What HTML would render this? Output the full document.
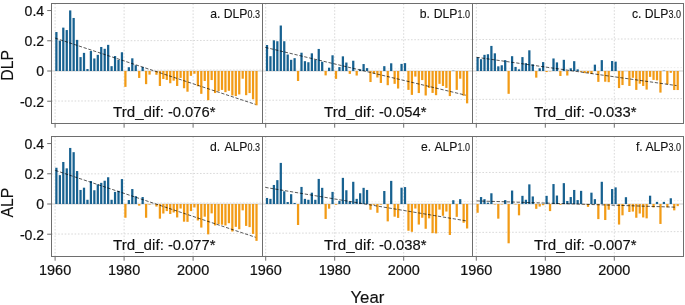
<!DOCTYPE html>
<html><head><meta charset="utf-8"><style>
html,body{margin:0;padding:0;background:#fff;overflow:hidden;}
body{width:685px;height:305px;font-family:"Liberation Sans",sans-serif;}
svg{display:block;will-change:transform;}
</style></head><body>
<svg width="685" height="305" viewBox="0 0 685 305">
<rect width="685" height="305" fill="#fff"/>
<g stroke="#d9d9d9" stroke-width="1" stroke-dasharray="1.6 1.7"><line x1="55.1" y1="3.5" x2="55.1" y2="123.5"/><line x1="124.1" y1="3.5" x2="124.1" y2="123.5"/><line x1="193.1" y1="3.5" x2="193.1" y2="123.5"/><line x1="51.5" y1="41" x2="262.5" y2="40.26"/><line x1="51.5" y1="70.2" x2="262.5" y2="69.33" stroke="#ececec"/><line x1="51.5" y1="101.1" x2="262.5" y2="100.26"/></g>
<line x1="51.5" y1="71" x2="262.5" y2="71" stroke="#cfcfcf" stroke-width="1"/>
<g fill="#176190"><rect x="55.27" y="32.02" width="2.25" height="38.98"/><rect x="58.73" y="40.63" width="2.25" height="30.37"/><rect x="62.17" y="27.63" width="2.25" height="43.37"/><rect x="65.62" y="30.05" width="2.25" height="40.95"/><rect x="69.08" y="10.41" width="2.25" height="60.59"/><rect x="72.53" y="17.96" width="2.25" height="53.04"/><rect x="75.97" y="39.87" width="2.25" height="31.13"/><rect x="79.42" y="57.1" width="2.25" height="13.9"/><rect x="82.88" y="52.87" width="2.25" height="18.13"/><rect x="86.33" y="69.04" width="2.25" height="1.96"/><rect x="89.78" y="51.05" width="2.25" height="19.95"/><rect x="93.22" y="58.46" width="2.25" height="12.54"/><rect x="96.68" y="54.83" width="2.25" height="16.17"/><rect x="100.12" y="46.98" width="2.25" height="24.02"/><rect x="103.58" y="48.79" width="2.25" height="22.21"/><rect x="107.03" y="44.86" width="2.25" height="26.14"/><rect x="110.47" y="66.16" width="2.25" height="4.84"/><rect x="113.93" y="56.04" width="2.25" height="14.96"/><rect x="117.38" y="59.97" width="2.25" height="11.03"/><rect x="120.82" y="52.26" width="2.25" height="18.74"/><rect x="127.72" y="67.22" width="2.25" height="3.78"/><rect x="131.18" y="58.31" width="2.25" height="12.69"/><rect x="134.62" y="65.26" width="2.25" height="5.74"/><rect x="141.53" y="66.92" width="2.25" height="4.08"/></g>
<g fill="#f29b16"><rect x="124.28" y="71" width="2.25" height="15.87"/><rect x="138.08" y="71" width="2.25" height="6.95"/><rect x="144.97" y="71" width="2.25" height="13.15"/><rect x="148.43" y="71" width="2.25" height="3.63"/><rect x="155.33" y="71" width="2.25" height="3.78"/><rect x="158.78" y="71" width="2.25" height="14.96"/><rect x="162.22" y="71" width="2.25" height="8.01"/><rect x="165.68" y="71" width="2.25" height="8.91"/><rect x="169.12" y="71" width="2.25" height="12.24"/><rect x="172.58" y="71" width="2.25" height="9.67"/><rect x="176.03" y="71" width="2.25" height="14.96"/><rect x="179.47" y="71" width="2.25" height="6.95"/><rect x="182.93" y="71" width="2.25" height="17.23"/><rect x="186.38" y="71" width="2.25" height="20.7"/><rect x="189.83" y="71" width="2.25" height="4.84"/><rect x="193.28" y="71" width="2.25" height="2.72"/><rect x="196.73" y="71" width="2.25" height="15.26"/><rect x="200.18" y="71" width="2.25" height="22.82"/><rect x="203.62" y="71" width="2.25" height="9.97"/><rect x="207.08" y="71" width="2.25" height="29.16"/><rect x="210.53" y="71" width="2.25" height="9.07"/><rect x="213.98" y="71" width="2.25" height="22.06"/><rect x="217.43" y="71" width="2.25" height="20.25"/><rect x="220.88" y="71" width="2.25" height="18.89"/><rect x="224.33" y="71" width="2.25" height="21.15"/><rect x="227.78" y="71" width="2.25" height="19.79"/><rect x="231.23" y="71" width="2.25" height="24.48"/><rect x="234.68" y="71" width="2.25" height="25.08"/><rect x="238.13" y="71" width="2.25" height="23.42"/><rect x="241.58" y="71" width="2.25" height="7.71"/><rect x="245.03" y="71" width="2.25" height="24.18"/><rect x="248.48" y="71" width="2.25" height="22.06"/><rect x="251.93" y="71" width="2.25" height="28.26"/><rect x="255.38" y="71" width="2.25" height="34.3"/></g>
<line x1="55.1" y1="38.1" x2="255.5" y2="104.4" stroke="#000" stroke-width="0.65" stroke-dasharray="3.3 1.7"/>
<g stroke="#d9d9d9" stroke-width="1" stroke-dasharray="1.6 1.7"><line x1="265.7" y1="3.5" x2="265.7" y2="123.5"/><line x1="334.7" y1="3.5" x2="334.7" y2="123.5"/><line x1="403.7" y1="3.5" x2="403.7" y2="123.5"/><line x1="262.5" y1="40.26" x2="472.5" y2="39.53"/><line x1="262.5" y1="69.33" x2="472.5" y2="68.47" stroke="#ececec"/><line x1="262.5" y1="100.26" x2="472.5" y2="99.43"/></g>
<line x1="262.5" y1="71" x2="472.5" y2="71" stroke="#cfcfcf" stroke-width="1"/>
<g fill="#176190"><rect x="265.88" y="45.01" width="2.25" height="25.99"/><rect x="269.32" y="56.19" width="2.25" height="14.81"/><rect x="272.77" y="40.33" width="2.25" height="30.67"/><rect x="276.23" y="41.23" width="2.25" height="29.77"/><rect x="279.68" y="25.52" width="2.25" height="45.48"/><rect x="283.12" y="41.23" width="2.25" height="29.77"/><rect x="286.57" y="54.53" width="2.25" height="16.47"/><rect x="290.02" y="59.82" width="2.25" height="11.18"/><rect x="293.48" y="58.16" width="2.25" height="12.84"/><rect x="300.38" y="52.72" width="2.25" height="18.28"/><rect x="303.82" y="61.18" width="2.25" height="9.82"/><rect x="307.27" y="62.24" width="2.25" height="8.76"/><rect x="310.73" y="53.32" width="2.25" height="17.68"/><rect x="314.18" y="59.67" width="2.25" height="11.33"/><rect x="317.62" y="48.94" width="2.25" height="22.06"/><rect x="321.07" y="61.78" width="2.25" height="9.22"/><rect x="327.98" y="67.68" width="2.25" height="3.32"/><rect x="331.43" y="55.29" width="2.25" height="15.71"/><rect x="338.32" y="67.07" width="2.25" height="3.93"/><rect x="341.77" y="56.34" width="2.25" height="14.66"/><rect x="345.23" y="62.54" width="2.25" height="8.46"/><rect x="352.12" y="60.73" width="2.25" height="10.27"/><rect x="359.02" y="69.34" width="2.25" height="1.66"/><rect x="362.48" y="64.05" width="2.25" height="6.95"/><rect x="365.93" y="68.13" width="2.25" height="2.87"/><rect x="383.18" y="66.16" width="2.25" height="4.84"/><rect x="390.07" y="63.29" width="2.25" height="7.71"/><rect x="400.43" y="63.9" width="2.25" height="7.1"/><rect x="403.88" y="63.14" width="2.25" height="7.86"/><rect x="452.18" y="70.7" width="2.25" height="0.3"/></g>
<g fill="#f29b16"><rect x="296.93" y="71" width="2.25" height="9.97"/><rect x="324.52" y="71" width="2.25" height="4.38"/><rect x="334.88" y="71" width="2.25" height="7.86"/><rect x="348.68" y="71" width="2.25" height="2.87"/><rect x="355.57" y="71" width="2.25" height="4.53"/><rect x="369.38" y="71" width="2.25" height="11.03"/><rect x="372.82" y="71" width="2.25" height="2.57"/><rect x="376.27" y="71" width="2.25" height="6.5"/><rect x="379.73" y="71" width="2.25" height="11.94"/><rect x="386.62" y="71" width="2.25" height="14.2"/><rect x="393.52" y="71" width="2.25" height="12.84"/><rect x="396.98" y="71" width="2.25" height="17.53"/><rect x="407.33" y="71" width="2.25" height="18.89"/><rect x="410.77" y="71" width="2.25" height="23.87"/><rect x="414.23" y="71" width="2.25" height="5.59"/><rect x="417.68" y="71" width="2.25" height="22.06"/><rect x="421.12" y="71" width="2.25" height="9.07"/><rect x="424.58" y="71" width="2.25" height="24.48"/><rect x="428.02" y="71" width="2.25" height="16.92"/><rect x="431.48" y="71" width="2.25" height="21.91"/><rect x="434.93" y="71" width="2.25" height="24.18"/><rect x="438.38" y="71" width="2.25" height="12.84"/><rect x="441.83" y="71" width="2.25" height="14.96"/><rect x="445.27" y="71" width="2.25" height="16.92"/><rect x="448.73" y="71" width="2.25" height="25.08"/><rect x="455.62" y="71" width="2.25" height="18.89"/><rect x="459.08" y="71" width="2.25" height="7.71"/><rect x="462.52" y="71" width="2.25" height="24.78"/><rect x="465.98" y="71" width="2.25" height="32.34"/></g>
<line x1="265.3" y1="47.4" x2="465.8" y2="95.2" stroke="#000" stroke-width="0.65" stroke-dasharray="3.3 1.7"/>
<g stroke="#d9d9d9" stroke-width="1" stroke-dasharray="1.6 1.7"><line x1="476.3" y1="3.5" x2="476.3" y2="123.5"/><line x1="545.3" y1="3.5" x2="545.3" y2="123.5"/><line x1="614.3" y1="3.5" x2="614.3" y2="123.5"/><line x1="472.5" y1="39.53" x2="683.5" y2="38.8"/><line x1="472.5" y1="68.47" x2="683.5" y2="67.6" stroke="#ececec"/><line x1="472.5" y1="99.43" x2="683.5" y2="98.6"/></g>
<line x1="472.5" y1="71" x2="683.5" y2="71" stroke="#cfcfcf" stroke-width="1"/>
<g fill="#176190"><rect x="476.47" y="57.25" width="2.25" height="13.75"/><rect x="479.92" y="59.21" width="2.25" height="11.79"/><rect x="483.37" y="54.83" width="2.25" height="16.17"/><rect x="486.82" y="54.23" width="2.25" height="16.77"/><rect x="490.27" y="45.92" width="2.25" height="25.08"/><rect x="493.72" y="53.32" width="2.25" height="17.68"/><rect x="497.17" y="66.32" width="2.25" height="4.68"/><rect x="500.62" y="65.26" width="2.25" height="5.74"/><rect x="504.07" y="60.12" width="2.25" height="10.88"/><rect x="510.97" y="56.19" width="2.25" height="14.81"/><rect x="514.42" y="66.92" width="2.25" height="4.08"/><rect x="517.88" y="69.34" width="2.25" height="1.66"/><rect x="521.32" y="57.1" width="2.25" height="13.9"/><rect x="524.77" y="63.14" width="2.25" height="7.86"/><rect x="528.22" y="50.3" width="2.25" height="20.7"/><rect x="531.67" y="64.35" width="2.25" height="6.65"/><rect x="538.57" y="68.28" width="2.25" height="2.72"/><rect x="542.02" y="62.09" width="2.25" height="8.91"/><rect x="552.38" y="58.46" width="2.25" height="12.54"/><rect x="555.82" y="62.39" width="2.25" height="8.61"/><rect x="562.72" y="59.82" width="2.25" height="11.18"/><rect x="569.62" y="68.28" width="2.25" height="2.72"/><rect x="573.07" y="61.18" width="2.25" height="9.82"/><rect x="576.52" y="69.34" width="2.25" height="1.66"/><rect x="593.77" y="64.65" width="2.25" height="6.35"/><rect x="600.67" y="60.12" width="2.25" height="10.88"/><rect x="611.02" y="61.03" width="2.25" height="9.97"/><rect x="614.47" y="61.63" width="2.25" height="9.37"/><rect x="662.77" y="70.7" width="2.25" height="0.3"/></g>
<g fill="#f29b16"><rect x="507.52" y="71" width="2.25" height="22.82"/><rect x="535.12" y="71" width="2.25" height="6.65"/><rect x="545.47" y="71" width="2.25" height="1.06"/><rect x="548.92" y="71" width="2.25" height="0.3"/><rect x="559.27" y="71" width="2.25" height="4.99"/><rect x="566.17" y="71" width="2.25" height="4.53"/><rect x="579.97" y="71" width="2.25" height="0.76"/><rect x="583.42" y="71" width="2.25" height="2.12"/><rect x="586.88" y="71" width="2.25" height="1.96"/><rect x="590.32" y="71" width="2.25" height="3.02"/><rect x="597.22" y="71" width="2.25" height="10.88"/><rect x="604.12" y="71" width="2.25" height="10.73"/><rect x="607.57" y="71" width="2.25" height="11.18"/><rect x="617.92" y="71" width="2.25" height="17.07"/><rect x="621.38" y="71" width="2.25" height="14.05"/><rect x="628.27" y="71" width="2.25" height="14.96"/><rect x="631.72" y="71" width="2.25" height="6.8"/><rect x="635.17" y="71" width="2.25" height="18.89"/><rect x="638.62" y="71" width="2.25" height="12.69"/><rect x="642.08" y="71" width="2.25" height="14.96"/><rect x="645.52" y="71" width="2.25" height="18.59"/><rect x="648.97" y="71" width="2.25" height="5.89"/><rect x="652.42" y="71" width="2.25" height="8.91"/><rect x="655.88" y="71" width="2.25" height="9.37"/><rect x="659.33" y="71" width="2.25" height="21.61"/><rect x="666.22" y="71" width="2.25" height="13.45"/><rect x="669.67" y="71" width="2.25" height="1.81"/><rect x="673.12" y="71" width="2.25" height="19.04"/><rect x="676.58" y="71" width="2.25" height="19.04"/></g>
<line x1="476.6" y1="57.3" x2="676.6" y2="85.6" stroke="#000" stroke-width="0.65" stroke-dasharray="3.3 1.7"/>
<g stroke="#d9d9d9" stroke-width="1" stroke-dasharray="1.6 1.7"><line x1="55.1" y1="136.5" x2="55.1" y2="256.5"/><line x1="124.1" y1="136.5" x2="124.1" y2="256.5"/><line x1="193.1" y1="136.5" x2="193.1" y2="256.5"/><line x1="51.5" y1="174" x2="262.5" y2="173.26"/><line x1="51.5" y1="203.2" x2="262.5" y2="202.33" stroke="#ececec"/><line x1="51.5" y1="234.1" x2="262.5" y2="233.26"/></g>
<line x1="51.5" y1="204" x2="262.5" y2="204" stroke="#cfcfcf" stroke-width="1"/>
<g fill="#176190"><rect x="55.27" y="167.74" width="2.25" height="36.26"/><rect x="58.73" y="175.14" width="2.25" height="28.86"/><rect x="62.17" y="161.99" width="2.25" height="42.01"/><rect x="65.62" y="168.34" width="2.25" height="35.66"/><rect x="69.08" y="147.94" width="2.25" height="56.06"/><rect x="72.53" y="152.17" width="2.25" height="51.83"/><rect x="75.97" y="171.06" width="2.25" height="32.94"/><rect x="79.42" y="189.95" width="2.25" height="14.05"/><rect x="82.88" y="187.68" width="2.25" height="16.32"/><rect x="86.33" y="199.77" width="2.25" height="4.23"/><rect x="89.78" y="181.03" width="2.25" height="22.97"/><rect x="93.22" y="190.25" width="2.25" height="13.75"/><rect x="96.68" y="184.36" width="2.25" height="19.64"/><rect x="100.12" y="182.85" width="2.25" height="21.15"/><rect x="103.58" y="180.73" width="2.25" height="23.27"/><rect x="107.03" y="177.26" width="2.25" height="26.74"/><rect x="110.47" y="199.77" width="2.25" height="4.23"/><rect x="113.93" y="191.91" width="2.25" height="12.09"/><rect x="117.38" y="190.85" width="2.25" height="13.15"/><rect x="120.82" y="179.07" width="2.25" height="24.93"/><rect x="127.72" y="200.07" width="2.25" height="3.93"/><rect x="131.18" y="189.04" width="2.25" height="14.96"/><rect x="134.62" y="196.14" width="2.25" height="7.86"/><rect x="141.53" y="197.05" width="2.25" height="6.95"/></g>
<g fill="#f29b16"><rect x="124.28" y="204" width="2.25" height="13.75"/><rect x="138.08" y="204" width="2.25" height="1.66"/><rect x="144.97" y="204" width="2.25" height="13.75"/><rect x="148.43" y="204" width="2.25" height="0.6"/><rect x="155.33" y="204" width="2.25" height="2.57"/><rect x="158.78" y="204" width="2.25" height="14.66"/><rect x="162.22" y="204" width="2.25" height="9.52"/><rect x="165.68" y="204" width="2.25" height="7.1"/><rect x="169.12" y="204" width="2.25" height="9.97"/><rect x="172.58" y="204" width="2.25" height="8.46"/><rect x="176.03" y="204" width="2.25" height="13.45"/><rect x="179.47" y="204" width="2.25" height="4.53"/><rect x="182.93" y="204" width="2.25" height="17.68"/><rect x="186.38" y="204" width="2.25" height="17.83"/><rect x="189.83" y="204" width="2.25" height="7.1"/><rect x="193.28" y="204" width="2.25" height="3.48"/><rect x="196.73" y="204" width="2.25" height="16.47"/><rect x="200.18" y="204" width="2.25" height="23.57"/><rect x="203.62" y="204" width="2.25" height="12.69"/><rect x="207.08" y="204" width="2.25" height="30.37"/><rect x="210.53" y="204" width="2.25" height="9.37"/><rect x="213.98" y="204" width="2.25" height="21.46"/><rect x="217.43" y="204" width="2.25" height="20.1"/><rect x="220.88" y="204" width="2.25" height="20.7"/><rect x="224.33" y="204" width="2.25" height="21.46"/><rect x="227.78" y="204" width="2.25" height="19.19"/><rect x="231.23" y="204" width="2.25" height="27.5"/><rect x="234.68" y="204" width="2.25" height="22.82"/><rect x="238.13" y="204" width="2.25" height="25.23"/><rect x="241.58" y="204" width="2.25" height="6.35"/><rect x="245.03" y="204" width="2.25" height="21.91"/><rect x="248.48" y="204" width="2.25" height="23.12"/><rect x="251.93" y="204" width="2.25" height="29.92"/><rect x="255.38" y="204" width="2.25" height="36.87"/></g>
<line x1="55.3" y1="170.4" x2="255.6" y2="237.3" stroke="#000" stroke-width="0.65" stroke-dasharray="3.3 1.7"/>
<g stroke="#d9d9d9" stroke-width="1" stroke-dasharray="1.6 1.7"><line x1="265.7" y1="136.5" x2="265.7" y2="256.5"/><line x1="334.7" y1="136.5" x2="334.7" y2="256.5"/><line x1="403.7" y1="136.5" x2="403.7" y2="256.5"/><line x1="262.5" y1="173.26" x2="472.5" y2="172.53"/><line x1="262.5" y1="202.33" x2="472.5" y2="201.47" stroke="#ececec"/><line x1="262.5" y1="233.26" x2="472.5" y2="232.43"/></g>
<line x1="262.5" y1="204" x2="472.5" y2="204" stroke="#cfcfcf" stroke-width="1"/>
<g fill="#176190"><rect x="265.88" y="197.96" width="2.25" height="6.04"/><rect x="269.32" y="198.86" width="2.25" height="5.14"/><rect x="272.77" y="184.96" width="2.25" height="19.04"/><rect x="276.23" y="180.13" width="2.25" height="23.87"/><rect x="279.68" y="162.9" width="2.25" height="41.1"/><rect x="283.12" y="191.31" width="2.25" height="12.69"/><rect x="286.57" y="202.04" width="2.25" height="1.96"/><rect x="290.02" y="194.18" width="2.25" height="9.82"/><rect x="293.48" y="202.94" width="2.25" height="1.06"/><rect x="300.38" y="186.93" width="2.25" height="17.07"/><rect x="303.82" y="198.86" width="2.25" height="5.14"/><rect x="307.27" y="199.77" width="2.25" height="4.23"/><rect x="310.73" y="192.67" width="2.25" height="11.33"/><rect x="314.18" y="199.77" width="2.25" height="4.23"/><rect x="317.62" y="178.92" width="2.25" height="25.08"/><rect x="321.07" y="187.83" width="2.25" height="16.17"/><rect x="331.43" y="191.91" width="2.25" height="12.09"/><rect x="338.32" y="200.83" width="2.25" height="3.17"/><rect x="341.77" y="177.86" width="2.25" height="26.14"/><rect x="345.23" y="190.25" width="2.25" height="13.75"/><rect x="348.68" y="201.43" width="2.25" height="2.57"/><rect x="352.12" y="181.79" width="2.25" height="22.21"/><rect x="355.57" y="198.86" width="2.25" height="5.14"/><rect x="359.02" y="193.27" width="2.25" height="10.73"/><rect x="362.48" y="187.83" width="2.25" height="16.17"/><rect x="365.93" y="189.95" width="2.25" height="14.05"/><rect x="383.18" y="191.01" width="2.25" height="12.99"/><rect x="390.07" y="180.88" width="2.25" height="23.12"/><rect x="400.43" y="187.68" width="2.25" height="16.32"/><rect x="403.88" y="187.08" width="2.25" height="16.92"/><rect x="452.18" y="200.22" width="2.25" height="3.78"/><rect x="459.08" y="199.16" width="2.25" height="4.84"/></g>
<g fill="#f29b16"><rect x="296.93" y="204" width="2.25" height="21"/><rect x="324.52" y="204" width="2.25" height="14.96"/><rect x="327.98" y="204" width="2.25" height="4.68"/><rect x="334.88" y="204" width="2.25" height="0.76"/><rect x="369.38" y="204" width="2.25" height="5.74"/><rect x="372.82" y="204" width="2.25" height="0.76"/><rect x="376.27" y="204" width="2.25" height="8.76"/><rect x="379.73" y="204" width="2.25" height="0.6"/><rect x="386.62" y="204" width="2.25" height="17.38"/><rect x="393.52" y="204" width="2.25" height="12.69"/><rect x="396.98" y="204" width="2.25" height="13.9"/><rect x="407.33" y="204" width="2.25" height="26.74"/><rect x="410.77" y="204" width="2.25" height="27.8"/><rect x="414.23" y="204" width="2.25" height="4.53"/><rect x="417.68" y="204" width="2.25" height="20.55"/><rect x="421.12" y="204" width="2.25" height="13.75"/><rect x="424.58" y="204" width="2.25" height="24.78"/><rect x="428.02" y="204" width="2.25" height="14.35"/><rect x="431.48" y="204" width="2.25" height="29.16"/><rect x="434.93" y="204" width="2.25" height="29.46"/><rect x="438.38" y="204" width="2.25" height="5.59"/><rect x="441.83" y="204" width="2.25" height="11.79"/><rect x="445.27" y="204" width="2.25" height="7.55"/><rect x="448.73" y="204" width="2.25" height="30.98"/><rect x="455.62" y="204" width="2.25" height="12.84"/><rect x="462.52" y="204" width="2.25" height="18.74"/><rect x="465.98" y="204" width="2.25" height="24.48"/></g>
<line x1="265.3" y1="187.4" x2="465.8" y2="220.8" stroke="#000" stroke-width="0.65" stroke-dasharray="3.3 1.7"/>
<g stroke="#d9d9d9" stroke-width="1" stroke-dasharray="1.6 1.7"><line x1="476.3" y1="136.5" x2="476.3" y2="256.5"/><line x1="545.3" y1="136.5" x2="545.3" y2="256.5"/><line x1="614.3" y1="136.5" x2="614.3" y2="256.5"/><line x1="472.5" y1="172.53" x2="683.5" y2="171.8"/><line x1="472.5" y1="201.47" x2="683.5" y2="200.6" stroke="#ececec"/><line x1="472.5" y1="232.43" x2="683.5" y2="231.6"/></g>
<line x1="472.5" y1="204" x2="683.5" y2="204" stroke="#cfcfcf" stroke-width="1"/>
<g fill="#176190"><rect x="479.92" y="197.05" width="2.25" height="6.95"/><rect x="483.37" y="199.16" width="2.25" height="4.84"/><rect x="486.82" y="202.64" width="2.25" height="1.36"/><rect x="490.27" y="193.27" width="2.25" height="10.73"/><rect x="504.07" y="200.07" width="2.25" height="3.93"/><rect x="510.97" y="190.55" width="2.25" height="13.45"/><rect x="521.32" y="195.84" width="2.25" height="8.16"/><rect x="524.77" y="199.77" width="2.25" height="4.23"/><rect x="528.22" y="184.36" width="2.25" height="19.64"/><rect x="531.67" y="196.44" width="2.25" height="7.55"/><rect x="545.47" y="195.84" width="2.25" height="8.16"/><rect x="552.38" y="184.05" width="2.25" height="19.95"/><rect x="555.82" y="195.54" width="2.25" height="8.46"/><rect x="562.72" y="183.15" width="2.25" height="20.85"/><rect x="566.17" y="200.98" width="2.25" height="3.02"/><rect x="569.62" y="197.05" width="2.25" height="6.95"/><rect x="573.07" y="189.95" width="2.25" height="14.05"/><rect x="576.52" y="200.07" width="2.25" height="3.93"/><rect x="579.97" y="190.85" width="2.25" height="13.15"/><rect x="590.32" y="192.67" width="2.25" height="11.33"/><rect x="593.77" y="199.16" width="2.25" height="4.84"/><rect x="600.67" y="181.79" width="2.25" height="22.21"/><rect x="611.02" y="189.04" width="2.25" height="14.96"/><rect x="614.47" y="187.38" width="2.25" height="16.62"/><rect x="624.82" y="197.2" width="2.25" height="6.8"/><rect x="648.97" y="195.69" width="2.25" height="8.31"/><rect x="655.88" y="201.88" width="2.25" height="2.12"/><rect x="662.77" y="201.88" width="2.25" height="2.12"/><rect x="669.67" y="198.26" width="2.25" height="5.74"/></g>
<g fill="#f29b16"><rect x="476.47" y="204" width="2.25" height="8.76"/><rect x="493.72" y="204" width="2.25" height="0.45"/><rect x="497.17" y="204" width="2.25" height="14.66"/><rect x="500.62" y="204" width="2.25" height="0.45"/><rect x="507.52" y="204" width="2.25" height="39.29"/><rect x="514.42" y="204" width="2.25" height="0.45"/><rect x="517.88" y="204" width="2.25" height="11.33"/><rect x="535.12" y="204" width="2.25" height="4.84"/><rect x="538.57" y="204" width="2.25" height="2.57"/><rect x="542.02" y="204" width="2.25" height="1.21"/><rect x="548.92" y="204" width="2.25" height="7.1"/><rect x="559.27" y="204" width="2.25" height="0.76"/><rect x="583.42" y="204" width="2.25" height="0.3"/><rect x="586.88" y="204" width="2.25" height="2.87"/><rect x="597.22" y="204" width="2.25" height="15.11"/><rect x="604.12" y="204" width="2.25" height="16.02"/><rect x="607.57" y="204" width="2.25" height="5.74"/><rect x="617.92" y="204" width="2.25" height="20.55"/><rect x="621.38" y="204" width="2.25" height="11.33"/><rect x="628.27" y="204" width="2.25" height="8.01"/><rect x="631.72" y="204" width="2.25" height="7.55"/><rect x="635.17" y="204" width="2.25" height="13.75"/><rect x="638.62" y="204" width="2.25" height="9.52"/><rect x="642.08" y="204" width="2.25" height="13.45"/><rect x="645.52" y="204" width="2.25" height="14.35"/><rect x="652.42" y="204" width="2.25" height="3.48"/><rect x="659.33" y="204" width="2.25" height="19.95"/><rect x="666.22" y="204" width="2.25" height="3.32"/><rect x="673.12" y="204" width="2.25" height="6.35"/><rect x="676.58" y="204" width="2.25" height="2.12"/></g>
<line x1="476.6" y1="200.9" x2="676.6" y2="207.2" stroke="#000" stroke-width="0.65" stroke-dasharray="3.3 1.7"/>
<g stroke="#6e6e6e" stroke-width="1"><rect x="51.5" y="3.5" width="632" height="120" fill="none"/><line x1="262.5" y1="3.5" x2="262.5" y2="123.5"/><line x1="472.5" y1="3.5" x2="472.5" y2="123.5"/><line x1="55.1" y1="123.5" x2="55.1" y2="127.7"/><line x1="124.1" y1="123.5" x2="124.1" y2="127.7"/><line x1="193.1" y1="123.5" x2="193.1" y2="127.7"/><line x1="265.7" y1="123.5" x2="265.7" y2="127.7"/><line x1="334.7" y1="123.5" x2="334.7" y2="127.7"/><line x1="403.7" y1="123.5" x2="403.7" y2="127.7"/><line x1="476.3" y1="123.5" x2="476.3" y2="127.7"/><line x1="545.3" y1="123.5" x2="545.3" y2="127.7"/><line x1="614.3" y1="123.5" x2="614.3" y2="127.7"/><line x1="47.2" y1="10.56" x2="51.5" y2="10.56"/><line x1="47.2" y1="40.78" x2="51.5" y2="40.78"/><line x1="47.2" y1="71" x2="51.5" y2="71"/><line x1="47.2" y1="101.22" x2="51.5" y2="101.22"/><rect x="51.5" y="136.5" width="632" height="120" fill="none"/><line x1="262.5" y1="136.5" x2="262.5" y2="256.5"/><line x1="472.5" y1="136.5" x2="472.5" y2="256.5"/><line x1="55.1" y1="256.5" x2="55.1" y2="260.7"/><line x1="124.1" y1="256.5" x2="124.1" y2="260.7"/><line x1="193.1" y1="256.5" x2="193.1" y2="260.7"/><line x1="265.7" y1="256.5" x2="265.7" y2="260.7"/><line x1="334.7" y1="256.5" x2="334.7" y2="260.7"/><line x1="403.7" y1="256.5" x2="403.7" y2="260.7"/><line x1="476.3" y1="256.5" x2="476.3" y2="260.7"/><line x1="545.3" y1="256.5" x2="545.3" y2="260.7"/><line x1="614.3" y1="256.5" x2="614.3" y2="260.7"/><line x1="47.2" y1="143.56" x2="51.5" y2="143.56"/><line x1="47.2" y1="173.78" x2="51.5" y2="173.78"/><line x1="47.2" y1="204" x2="51.5" y2="204"/><line x1="47.2" y1="234.22" x2="51.5" y2="234.22"/></g>
<g font-family="Liberation Sans, sans-serif" fill="#111" stroke="#111" stroke-width="0.22"><text transform="translate(44.2 15.86) scale(0.94 1)" text-anchor="end" font-size="15">0.4</text><text transform="translate(44.2 46.08) scale(0.94 1)" text-anchor="end" font-size="15">0.2</text><text transform="translate(44.2 76.3) scale(0.94 1)" text-anchor="end" font-size="15">0</text><text transform="translate(44.2 106.52) scale(0.94 1)" text-anchor="end" font-size="15">-0.2</text><text transform="translate(44.2 148.86) scale(0.94 1)" text-anchor="end" font-size="15">0.4</text><text transform="translate(44.2 179.08) scale(0.94 1)" text-anchor="end" font-size="15">0.2</text><text transform="translate(44.2 209.3) scale(0.94 1)" text-anchor="end" font-size="15">0</text><text transform="translate(44.2 239.52) scale(0.94 1)" text-anchor="end" font-size="15">-0.2</text><text transform="translate(55.1 274.9) scale(0.95 1)" text-anchor="middle" font-size="15.2">1960</text><text transform="translate(124.1 274.9) scale(0.95 1)" text-anchor="middle" font-size="15.2">1980</text><text transform="translate(193.1 274.9) scale(0.95 1)" text-anchor="middle" font-size="15.2">2000</text><text transform="translate(265.7 274.9) scale(0.95 1)" text-anchor="middle" font-size="15.2">1960</text><text transform="translate(334.7 274.9) scale(0.95 1)" text-anchor="middle" font-size="15.2">1980</text><text transform="translate(403.7 274.9) scale(0.95 1)" text-anchor="middle" font-size="15.2">2000</text><text transform="translate(476.3 274.9) scale(0.95 1)" text-anchor="middle" font-size="15.2">1960</text><text transform="translate(545.3 274.9) scale(0.95 1)" text-anchor="middle" font-size="15.2">1980</text><text transform="translate(614.3 274.9) scale(0.95 1)" text-anchor="middle" font-size="15.2">2000</text><text x="247.5" y="18.1" text-anchor="end" font-size="12.2" stroke-width="0.1">a. <tspan dx="0">DLP</tspan></text><text transform="translate(247.5 18.1) scale(0.9 1)" font-size="10" stroke-width="0.1">0.3</text><text x="113" y="116.9" font-size="15.5" stroke-width="0.15" textLength="50.85" lengthAdjust="spacingAndGlyphs">Trd_dif:</text><text x="167.9" y="116.9" font-size="15.5" stroke-width="0.15" textLength="47.6" lengthAdjust="spacingAndGlyphs">-0.076*</text><text x="457.5" y="18.1" text-anchor="end" font-size="12.2" stroke-width="0.1">b. <tspan dx="0.5">DLP</tspan></text><text transform="translate(457.5 18.1) scale(0.9 1)" font-size="10" stroke-width="0.1">1.0</text><text x="324" y="116.9" font-size="15.5" stroke-width="0.15" textLength="50.85" lengthAdjust="spacingAndGlyphs">Trd_dif:</text><text x="378.9" y="116.9" font-size="15.5" stroke-width="0.15" textLength="47.6" lengthAdjust="spacingAndGlyphs">-0.054*</text><text x="668.5" y="18.1" text-anchor="end" font-size="12.2" stroke-width="0.1">c. <tspan dx="0">DLP</tspan></text><text transform="translate(668.5 18.1) scale(0.9 1)" font-size="10" stroke-width="0.1">3.0</text><text x="534" y="116.9" font-size="15.5" stroke-width="0.15" textLength="50.85" lengthAdjust="spacingAndGlyphs">Trd_dif:</text><text x="588.9" y="116.9" font-size="15.5" stroke-width="0.15" textLength="47.6" lengthAdjust="spacingAndGlyphs">-0.033*</text><text x="247.5" y="151.1" text-anchor="end" font-size="12.2" stroke-width="0.1">d. <tspan dx="1.5">ALP</tspan></text><text transform="translate(247.5 151.1) scale(0.9 1)" font-size="10" stroke-width="0.1">0.3</text><text x="113" y="249.9" font-size="15.5" stroke-width="0.15" textLength="50.85" lengthAdjust="spacingAndGlyphs">Trd_dif:</text><text x="167.9" y="249.9" font-size="15.5" stroke-width="0.15" textLength="47.6" lengthAdjust="spacingAndGlyphs">-0.077*</text><text x="457.5" y="151.1" text-anchor="end" font-size="12.2" stroke-width="0.1">e. <tspan dx="0.6">ALP</tspan></text><text transform="translate(457.5 151.1) scale(0.9 1)" font-size="10" stroke-width="0.1">1.0</text><text x="324" y="249.9" font-size="15.5" stroke-width="0.15" textLength="50.85" lengthAdjust="spacingAndGlyphs">Trd_dif:</text><text x="378.9" y="249.9" font-size="15.5" stroke-width="0.15" textLength="47.6" lengthAdjust="spacingAndGlyphs">-0.038*</text><text x="668.5" y="151.1" text-anchor="end" font-size="12.2" stroke-width="0.1">f. <tspan dx="0">ALP</tspan></text><text transform="translate(668.5 151.1) scale(0.9 1)" font-size="10" stroke-width="0.1">3.0</text><text x="534" y="249.9" font-size="15.5" stroke-width="0.15" textLength="50.85" lengthAdjust="spacingAndGlyphs">Trd_dif:</text><text x="588.9" y="249.9" font-size="15.5" stroke-width="0.15" textLength="47.6" lengthAdjust="spacingAndGlyphs">-0.007*</text><text x="367.4" y="302.8" text-anchor="middle" font-size="16.8" stroke-width="0.15">Year</text><text transform="translate(13.1 65.3) rotate(-90)" text-anchor="middle" font-size="15.8" stroke-width="0.12">DLP</text><text transform="translate(13.1 202.6) rotate(-90)" text-anchor="middle" font-size="15.8" stroke-width="0.12">ALP</text></g>
</svg>
</body></html>
